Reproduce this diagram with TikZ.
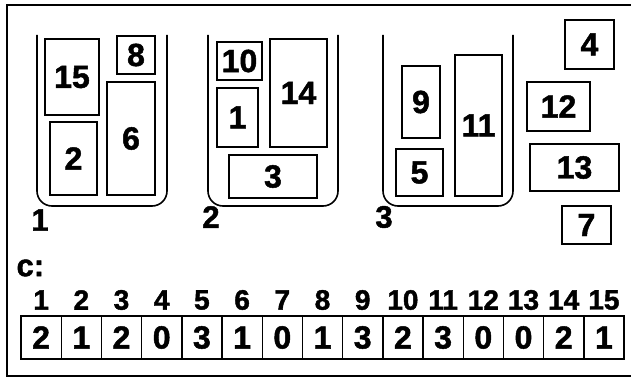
\documentclass[tikz,border=0pt]{standalone}
\usepackage{fontspec}
\setmainfont{Liberation Sans}[BoldFeatures={FakeBold=1.5}]
\usepackage{tikz}

\begin{document}
\begin{tikzpicture}[
  x=1pt,y=-1pt,
  frame/.style={draw=black, line width=2pt},
  bin/.style={draw=black, line width=1.6pt, rounded corners=15pt},
  item/.style={draw=black, line width=1.6pt, inner sep=0pt, font=\fontsize{32}{32}\selectfont\bfseries},
  binlabel/.style={font=\fontsize{31}{31}\selectfont\bfseries},
  idx/.style={font=\fontsize{28}{28}\selectfont\bfseries},
  cell/.style={draw=black, line width=1.4pt, inner sep=0pt, minimum width=40.2pt, minimum height=43pt, font=\fontsize{32}{32}\selectfont\bfseries}
]
\useasboundingbox (0,0) rectangle (631,379);
\draw[frame] (7,5) rectangle (645,376);
% the three bins
\draw[bin] (37,35) -- (37,206) -- (167,206) -- (167,35);
\draw[bin] (208,35) -- (208,206) -- (338,206) -- (338,35);
\draw[bin] (383,35) -- (383,206) -- (513,206) -- (513,35);
\node[binlabel] (k1) at (40,220) {1};
\node[binlabel] (k2) at (211,217) {2};
\node[binlabel] (k3) at (384,217) {3};
% bin 1
\node[item, minimum width=54pt, minimum height=76pt] (b15) at (72,77) {15};
\node[item, minimum width=38pt, minimum height=38pt] (b8) at (136,55) {8};
\node[item, minimum width=47pt, minimum height=73pt] (b2) at (73.5,158.5) {2};
\node[item, minimum width=48pt, minimum height=113pt] (b6) at (131,138.5) {6};
% bin 2
\node[item, minimum width=45pt, minimum height=38pt] (b10) at (239.5,61) {10};
\node[item, minimum width=41pt, minimum height=59pt] (b1) at (237.5,117.5) {1};
\node[item, minimum width=57pt, minimum height=108pt] (b14) at (298.5,93) {14};
\node[item, minimum width=88pt, minimum height=43pt] (b3) at (273,176.5) {3};
% bin 3
\node[item, minimum width=38pt, minimum height=72pt] (b9) at (421,102) {9};
\node[item, minimum width=47pt, minimum height=47pt] (b5) at (419.5,172.5) {5};
\node[item, minimum width=47pt, minimum height=141pt] (b11) at (478.5,125.5) {11};
% items left over
\node[item, minimum width=49pt, minimum height=49pt] (b4) at (589.5,44.5) {4};
\node[item, minimum width=63pt, minimum height=49pt] (b12) at (558.5,106.5) {12};
\node[item, minimum width=89pt, minimum height=47pt] (b13) at (574.5,167.5) {13};
\node[item, minimum width=49pt, minimum height=38pt] (b7) at (586.5,225) {7};
% assignment array
\node[binlabel, anchor=west] (clabel) at (13,268) {c:};
\node[cell] (c1) at (41.1,337.5) {2};    \node[idx] (i1) at (41.1,300) {1};
\node[cell] (c2) at (81.3,337.5) {1};    \node[idx] (i2) at (81.3,300) {2};
\node[cell] (c3) at (121.5,337.5) {2};   \node[idx] (i3) at (121.5,300) {3};
\node[cell] (c4) at (161.7,337.5) {0};   \node[idx] (i4) at (161.7,300) {4};
\node[cell] (c5) at (201.9,337.5) {3};   \node[idx] (i5) at (201.9,300) {5};
\node[cell] (c6) at (242.1,337.5) {1};   \node[idx] (i6) at (242.1,300) {6};
\node[cell] (c7) at (282.3,337.5) {0};   \node[idx] (i7) at (282.3,300) {7};
\node[cell] (c8) at (322.5,337.5) {1};   \node[idx] (i8) at (322.5,300) {8};
\node[cell] (c9) at (362.7,337.5) {3};   \node[idx] (i9) at (362.7,300) {9};
\node[cell] (c10) at (402.9,337.5) {2};  \node[idx] (i10) at (402.9,300) {10};
\node[cell] (c11) at (443.1,337.5) {3};  \node[idx] (i11) at (443.1,300) {11};
\node[cell] (c12) at (483.3,337.5) {0};  \node[idx] (i12) at (483.3,300) {12};
\node[cell] (c13) at (523.5,337.5) {0};  \node[idx] (i13) at (523.5,300) {13};
\node[cell] (c14) at (563.7,337.5) {2};  \node[idx] (i14) at (563.7,300) {14};
\node[cell] (c15) at (603.9,337.5) {1};  \node[idx] (i15) at (603.9,300) {15};
\end{tikzpicture}
\end{document}
